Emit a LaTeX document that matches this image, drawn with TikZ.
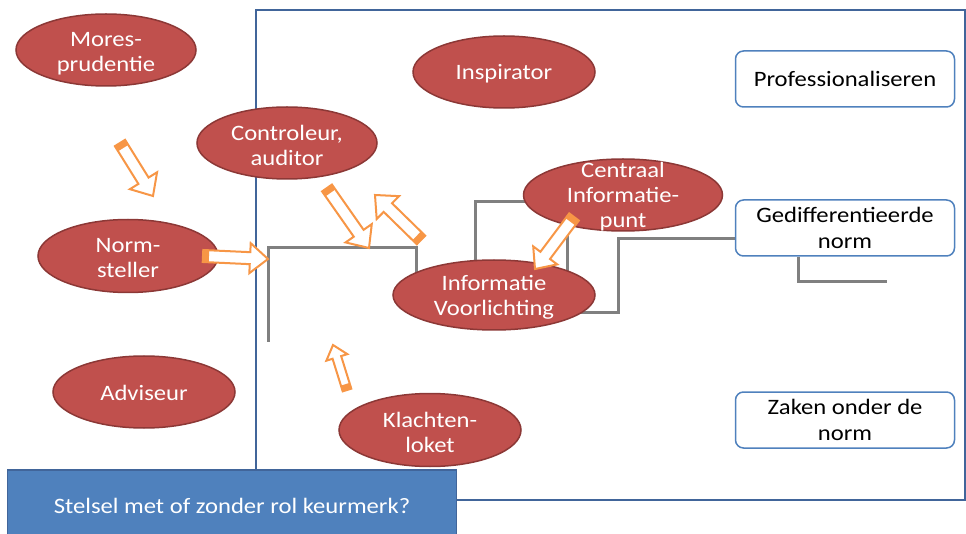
\documentclass[tikz,border=0pt]{standalone}
\usepackage{fontspec}
\setmainfont[FakeStretch=1.12]{Carlito}
\usepackage{tikz}
\usetikzlibrary{calc, shapes.geometric, backgrounds}

\definecolor{rolrood}{HTML}{C0504D}
\definecolor{rolrand}{HTML}{8C3836}
\definecolor{kaderblauw}{HTML}{4F81BD}
\definecolor{lijnblauw}{HTML}{41659A}
\definecolor{pijloranje}{HTML}{F79646}

% holle blokpijl: staart, punt, halve schacht, halve kop, kop lengte
\newcommand{\blokpijl}[5]{%
\coordinate (bp-c) at ($(#2)!#5!(#1)$);
\coordinate (bp-t) at ($(#1)!6pt!(#2)$);
\draw[pijl] ($(#1)!#3!90:(#2)$) -- ($(bp-c)!#3!90:(#2)$) -- ($(bp-c)!#4!90:(#2)$) -- (#2)
  -- ($(bp-c)!#4!-90:(#2)$) -- ($(bp-c)!#3!-90:(#2)$) -- ($(#1)!#3!-90:(#2)$) -- cycle;
\fill[pijloranje] ($(#1)!#3!90:(#2)$) -- ($(bp-t)!#3!90:(#2)$) -- ($(bp-t)!#3!-90:(#2)$) -- ($(#1)!#3!-90:(#2)$) -- cycle;
}

\begin{document}
\begin{tikzpicture}[x=1pt, y=-1pt,
  rol/.style = {ellipse, fill=rolrood, draw=rolrand, line width=1.5pt, inner sep=0pt, minimum width=180, minimum height=72},
  roltekst/.style = {text=white, align=center, font=\fontsize{22}{25}\selectfont},
  doel/.style = {draw=kaderblauw, line width=1.5pt, fill=white, rounded corners=8pt, minimum width=219, minimum height=56, align=center, font=\fontsize{22}{26}\selectfont},
  grijs/.style = {draw=gray, line width=3pt},
  pijl/.style = {draw=pijloranje, line width=2pt, fill=white, line join=miter}]
\useasboundingbox (0,0) rectangle (966,534);

% rollen
\node[rol] (mores) at (106,50) {};
\node[roltekst] (mores-t) at (106,54) {Mores-\\prudentie};
\node[rol] (contr) at (287,143) {};
\node[roltekst] (contr-t) at (287,145) {Controleur,\\auditor};
\node[rol, minimum width=182] (inspir) at (504,72) {};
\node[roltekst] (inspir-t) at (504,74) {Inspirator};
\node[rol, minimum height=73] (norm) at (128,256) {};
\node[roltekst] (norm-t) at (128,258) {Norm-\\steller};
\node[rol, minimum width=182] (advis) at (144,392) {};
\node[roltekst] (advis-t) at (144,393) {Adviseur};
\node[rol, minimum width=182, minimum height=73] (klacht) at (430,430) {};
\node[roltekst] (klacht-t) at (430,432) {Klachten-\\loket};
\node[rol, minimum width=199] (centr) at (623,195) {};
\node[roltekst] (centr-t) at (623,197) {Centraal\\Informatie-\\punt};
\node[rol, minimum width=202, minimum height=70] (info) at (494,295) {};
\node[roltekst] (info-t) at (494,297) {Informatie\\Voorlichting};

% doelen
\node[doel] (prof) at (845,79) {Professionaliseren};
\node[doel] (ged) at (845,228) {Gedifferentieerde\\norm};
\node[doel] (zaken) at (845,420) {Zaken onder de\\norm};

\begin{scope}[on background layer]
\draw[lijnblauw, line width=2pt] (256,10) rectangle (965,500);
\draw[grijs] (268,342) -- (268,248) -- (416,248) -- (416,290);
\draw[grijs] (475,290) -- (475,202) -- (567,202) -- (567,290);
\coordinate (knik) at (618,239);
\draw[grijs] (info.center |- 0,313) -- (knik |- 0,313) -- (knik) -- (knik -| ged.west);
\coordinate (voet) at (798,282);
\draw[grijs] (voet |- ged.south) -- (voet) -- ++(89,0);
\end{scope}

% pijlen
\coordinate (p1a) at (120,143); \coordinate (p1b) at (153,196);
\coordinate (p2a) at (203,256); \coordinate (p2b) at (268,259);
\coordinate (p3a) at (327,188); \coordinate (p3b) at (369,248);
\coordinate (p4a) at (421,240); \coordinate (p4b) at (375,195);
\coordinate (p5a) at (574,217); \coordinate (p5b) at (535,269);
\coordinate (p6a) at (347,390); \coordinate (p6b) at (333,345);
\blokpijl{p1a}{p1b}{6pt}{16pt}{18pt}
\blokpijl{p2a}{p2b}{6pt}{15pt}{18pt}
\blokpijl{p3a}{p3b}{6pt}{16pt}{18pt}
\blokpijl{p4a}{p4b}{6pt}{16pt}{18pt}
\blokpijl{p5a}{p5b}{6pt}{15pt}{17pt}
\blokpijl{p6a}{p6b}{4.5pt}{11pt}{13pt}

\node[fill=kaderblauw, draw=lijnblauw, line width=1.5pt, minimum width=449, minimum height=72, text=white, font=\fontsize{22}{25}\selectfont] (stelsel) at (232,506) {Stelsel met of zonder rol keurmerk?};
\end{tikzpicture}
\end{document}
